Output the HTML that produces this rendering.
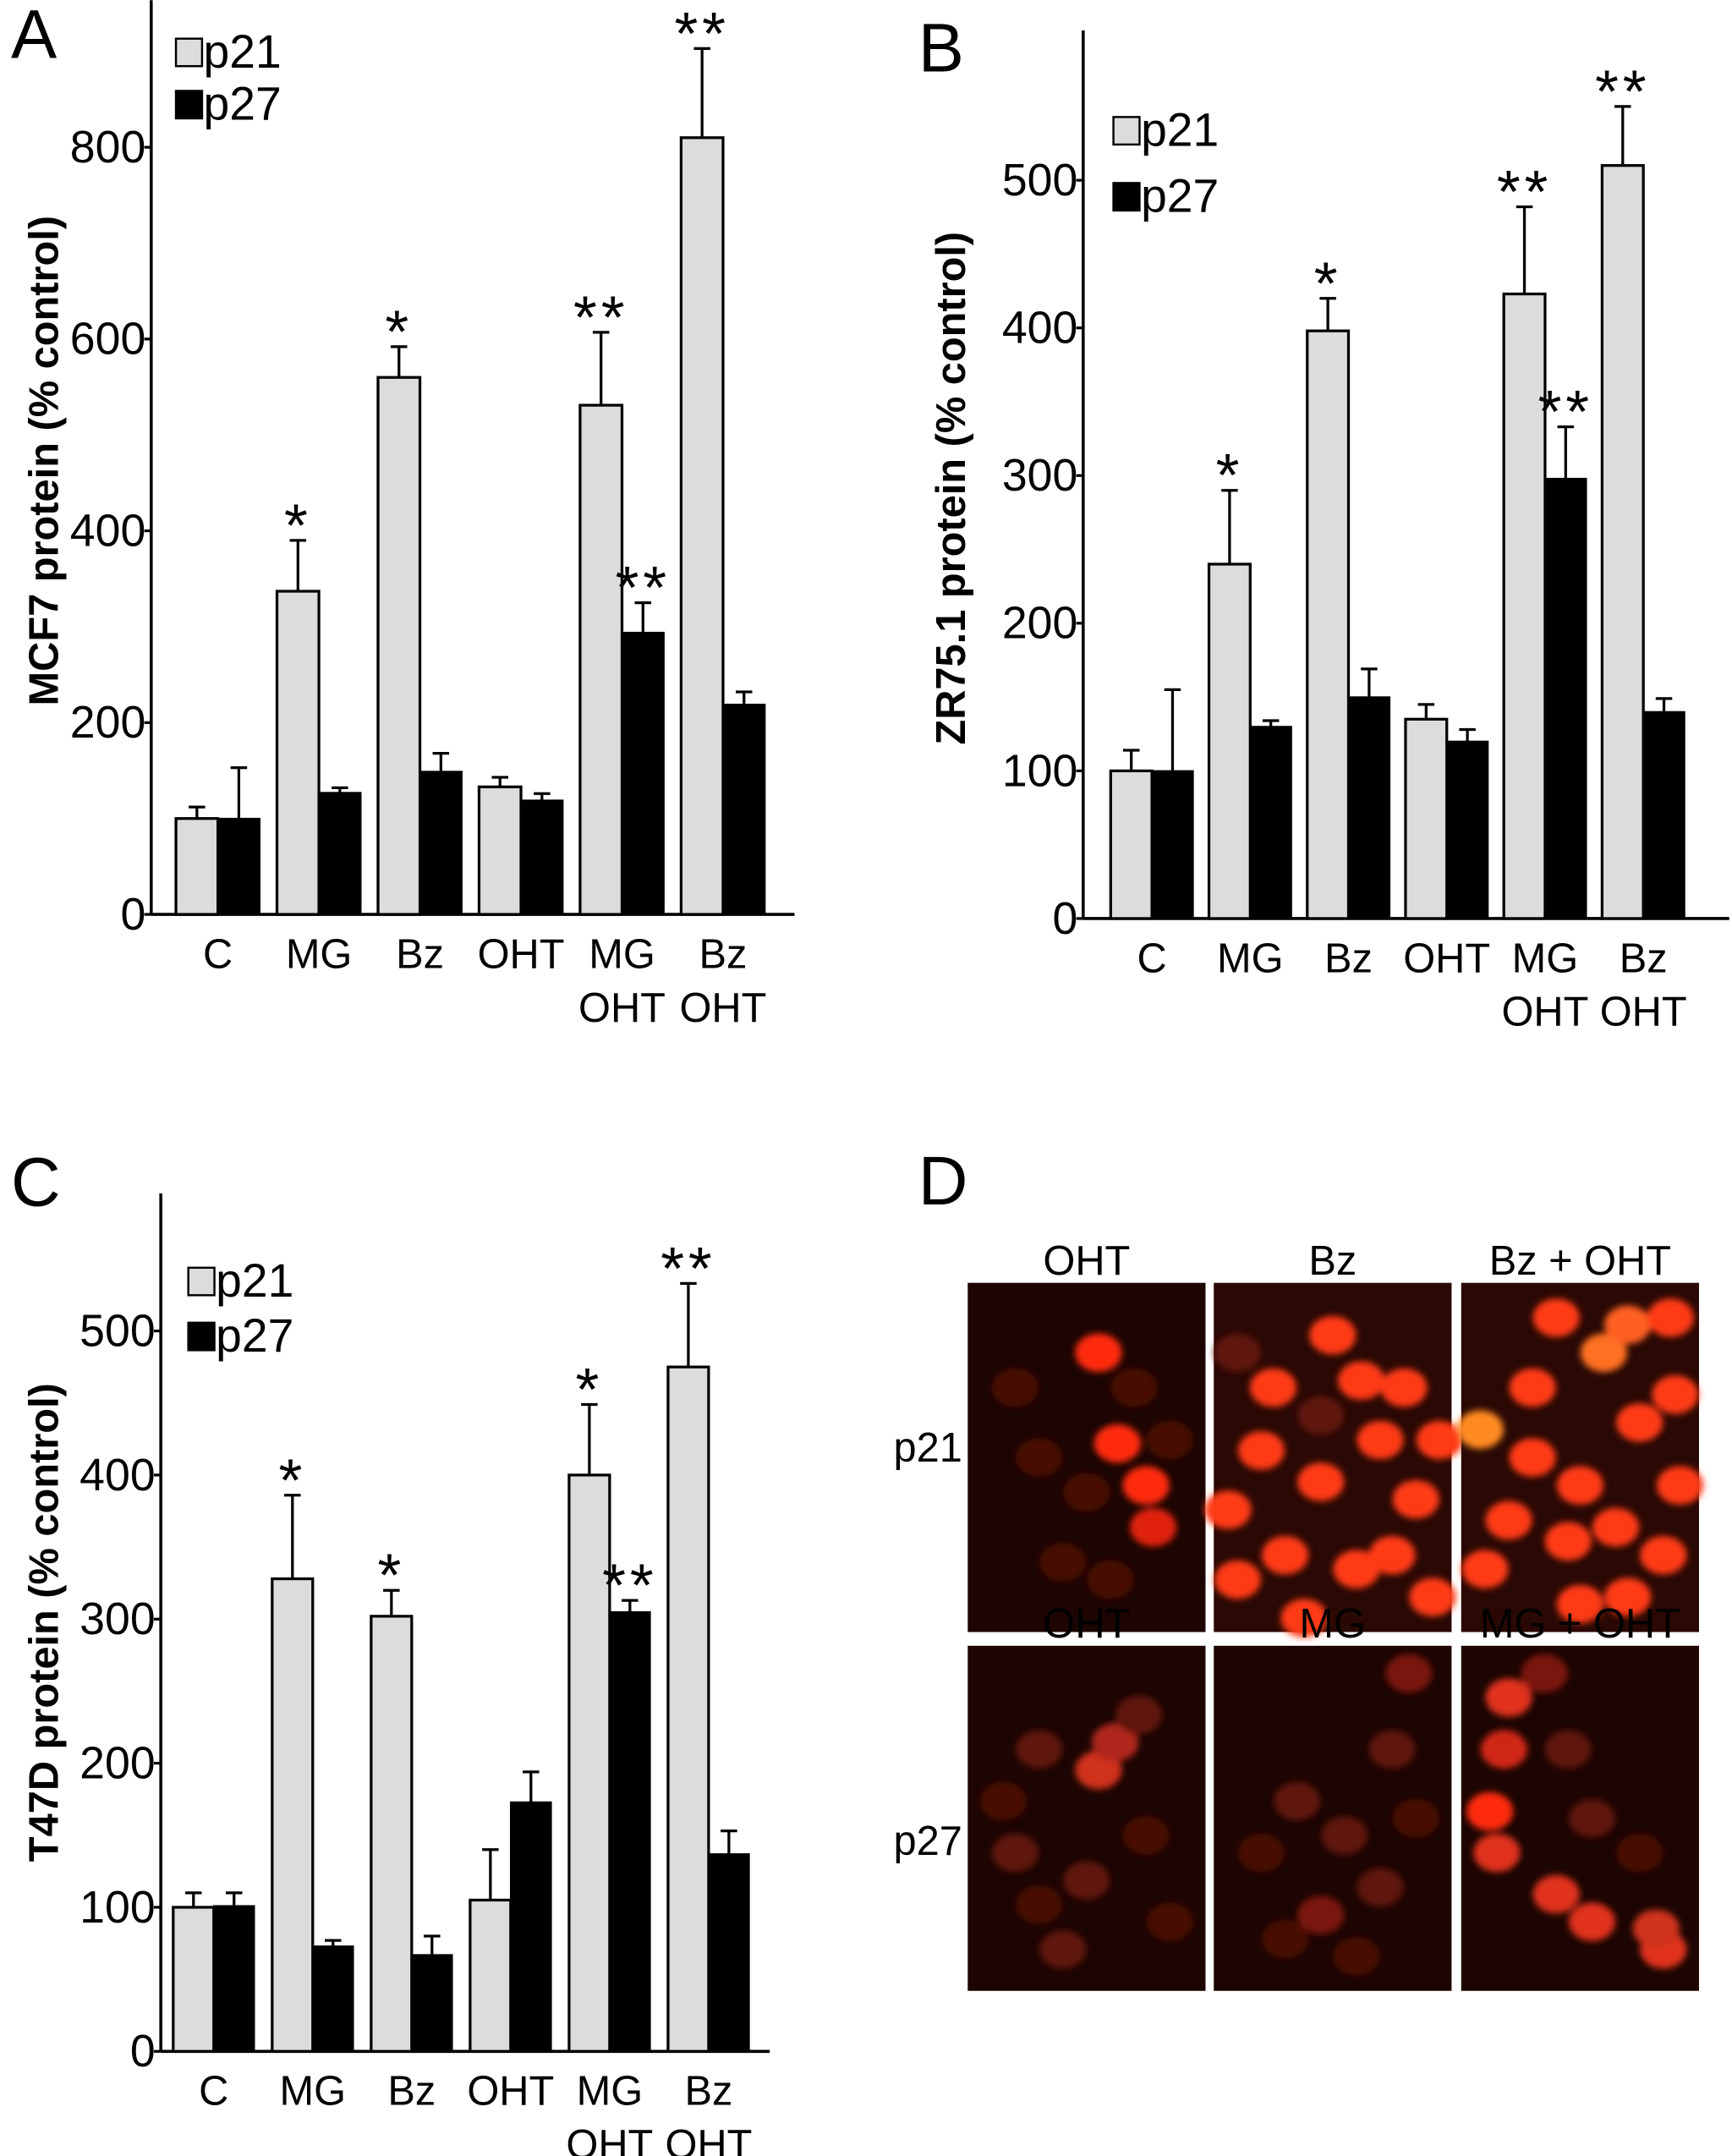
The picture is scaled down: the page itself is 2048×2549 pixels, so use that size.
<!DOCTYPE html>
<html><head><meta charset="utf-8">
<style>
html,body{margin:0;padding:0;background:#fff;}
svg{display:block;font-family:"Liberation Sans",Arial,sans-serif;}
</style></head>
<body>
<svg id="fig" width="2048" height="2549" viewBox="0 0 1260 1568" xmlns="http://www.w3.org/2000/svg">
<defs>
<filter id="blur" x="-20%" y="-20%" width="140%" height="140%"><feGaussianBlur stdDeviation="2.5"/></filter>
</defs>
<g id="panels"></g>
</svg>
<script>
const categories = ["C","MG","Bz","OHT","MG\nOHT","Bz\nOHT"];
const aP21 = [100,337,560,133,531,810];
const aP21Err = [12,53,32,10,76,93];
const aP27 = [100,127,149,119,294,219];
const aP27Err = [53,5,19,7,31,13];
const aStars21 = ["","*","*","","**","**"];
const aStars27 = ["","","","","**",""];
const aTicks = [0,200,400,600,800];

const bP21 = [100,240,398,135,423,510];
const bP21Err = [14,50,22,10,59,40];
const bP27 = [100,130,150,120,298,140];
const bP27Err = [55,4,19,8,35,9];
const bStars21 = ["","*","*","","**","**"];
const bStars27 = ["","","","","**",""];
const bTicks = [0,100,200,300,400,500];

const cP21 = [100,328,302,105,400,475];
const cP21Err = [10,58,18,35,49,58];
const cP27 = [101,73,67,173,305,137];
const cP27Err = [9,4,13,21,8,16];
const cStars21 = ["","*","*","","*","**"];
const cStars27 = ["","","","","**",""];
const cTicks = [0,100,200,300,400,500];

const NS="http://www.w3.org/2000/svg";
const root=document.getElementById('panels');
function mk(tag,attrs,parent){const e=document.createElementNS(NS,tag);for(const k in attrs)e.setAttribute(k,attrs[k]);(parent||root).appendChild(e);return e;}
function txt(s,attrs,parent){const t=mk('text',attrs,parent);t.textContent=s;return t;}

function chart(cfg){
  const g=mk('g',{});
  
  
  const y=v=>cfg.y0-(v/cfg.unit)*cfg.ppu;
  const x=i=>cfg.gx0+i*cfg.gstep;
  const ya=mk('line',{x1:cfg.ax,y1:cfg.top,x2:cfg.ax,y2:cfg.y0,stroke:'#000','stroke-width':2.2},g);
  
  
  const xa=mk('line',{x1:cfg.ax,y1:cfg.y0,x2:cfg.xend,y2:cfg.y0,stroke:'#000','stroke-width':2.2},g);
  
  
  cfg.ticks.forEach(t=>{
    mk('line',{x1:cfg.ax-5,y1:y(t),x2:cfg.ax,y2:y(t),stroke:'#000','stroke-width':2},g);
    const l=txt(String(t),{x:cfg.ax-4,y:y(t)+11,'font-size':33,'text-anchor':'end'},g);
    
    
  });
  const bw=cfg.bw;
  categories.forEach((c,i)=>{
    const gx=x(i);
    const v1=cfg.p21[i], v2=cfg.p27[i];
    mk('line',{x1:gx+bw/2,y1:y(v1),x2:gx+bw/2,y2:y(v1+cfg.e21[i]),stroke:'#000','stroke-width':2},g);
    mk('line',{x1:gx+bw/2-6,y1:y(v1+cfg.e21[i]),x2:gx+bw/2+6,y2:y(v1+cfg.e21[i]),stroke:'#000','stroke-width':2},g);
    const b1=mk('rect',{x:gx,y:y(v1),width:bw,height:cfg.y0-y(v1),fill:'#dcdcdc',stroke:'#000','stroke-width':2},g);
    
    
    mk('line',{x1:gx+bw*1.5,y1:y(v2),x2:gx+bw*1.5,y2:y(v2+cfg.e27[i]),stroke:'#000','stroke-width':2},g);
    mk('line',{x1:gx+bw*1.5-6,y1:y(v2+cfg.e27[i]),x2:gx+bw*1.5+6,y2:y(v2+cfg.e27[i]),stroke:'#000','stroke-width':2},g);
    const b2=mk('rect',{x:gx+bw,y:y(v2),width:bw,height:cfg.y0-y(v2),fill:'#000',stroke:'#000','stroke-width':1},g);
    
    
    if(cfg.s21[i]){const s=txt(cfg.s21[i],{x:gx+bw/2,y:y(v1+cfg.e21[i])+4,'font-size':44,'text-anchor':'middle','letter-spacing':3},g);
      
      }
    if(cfg.s27[i]){const s=txt(cfg.s27[i],{x:gx+bw*1.5,y:y(v2+cfg.e27[i])+4,'font-size':44,'text-anchor':'middle','letter-spacing':3},g);
      
      }
    const parts=c.split('\n');
    parts.forEach((p,k)=>{const l=txt(p,{x:gx+bw,y:cfg.y0+39+k*39,'font-size':30,'text-anchor':'middle'},g);
      
      });
  });
  [['p21','#dcdcdc'],['p27','#000']].forEach((L,k)=>{
    const r=mk('rect',{x:cfg.lx,y:cfg.ly+k*cfg.lstep,width:19,height:20,fill:L[1],stroke:'#000','stroke-width':1.5},g);
    
    
    const t=txt(L[0],{x:cfg.lx+20,y:cfg.ly+k*cfg.lstep+21,'font-size':34},g);
    
    
  });
  const pl=txt(cfg.letter,{x:cfg.px,y:cfg.py,'font-size':50},g);
  
  
  const yt=txt(cfg.title,{x:0,y:0,'font-size':30,'font-weight':'bold','text-anchor':'middle',transform:`translate(${cfg.tx},${cfg.ty}) rotate(-90)`},g);
  
  
}

chart({name:'chart-a-mcf7',p21:aP21,e21:aP21Err,p27:aP27,e27:aP27Err,s21:aStars21,s27:aStars27,ticks:aTicks,
  unit:200,ppu:139.5,y0:665,top:0,ax:110,xend:578,gx0:128,gstep:73.5,bw:30.5,
  lx:128,ly:28,lstep:38,letter:'A',px:8,py:42,title:'MCF7 protein (% control)',tx:42,ty:335});
chart({name:'chart-b-zr751',p21:bP21,e21:bP21Err,p27:bP27,e27:bP27Err,s21:bStars21,s27:bStars27,ticks:bTicks,
  unit:100,ppu:107.4,y0:668,top:22,ax:788,xend:1258,gx0:808,gstep:71.5,bw:30,
  lx:810,ly:85,lstep:48,letter:'B',px:668,py:52,title:'ZR75.1 protein (% control)',tx:702,ty:355});
chart({name:'chart-c-t47d',p21:cP21,e21:cP21Err,p27:cP27,e27:cP27Err,s21:cStars21,s27:cStars27,ticks:cTicks,
  unit:100,ppu:104.8,y0:1492,top:868,ax:117,xend:560,gx0:126,gstep:72,bw:29.5,
  lx:137,ly:922,lstep:40,letter:'C',px:8,py:877,title:'T47D protein (% control)',tx:42,ty:1180});

const pd=mk('g',{});


const dl=txt('D',{x:668,y:876,'font-size':50},pd);


const cols=[704,883,1063], cw=173;
const rows=[[933,254],[1197,251]];
const colLabels=[["OHT","Bz","Bz + OHT"],["OHT","MG","MG + OHT"]];
const R='#ff3a18', D1='#4a0e06', D2='#5e1208';
const nuclei=[
 [[[0.55,0.2,'#ff2a10'],[0.63,0.46,'#ff2a10'],[0.75,0.58,'#ff2a10'],[0.78,0.7,'#e02010'],[0.3,0.5,D1],[0.5,0.6,D1],[0.2,0.3,D1],[0.7,0.3,D1],[0.4,0.8,D1],[0.6,0.85,D1],[0.85,0.45,D1]],
  [[0.5,0.15,R],[0.25,0.3,R],[0.62,0.28,R],[0.8,0.3,R],[0.2,0.48,R],[0.7,0.45,R],[0.45,0.57,R],[0.06,0.65,R],[0.85,0.62,R],[0.3,0.78,R],[0.6,0.82,R],[0.38,0.96,R],[0.92,0.9,R],[0.95,0.45,R],[0.1,0.85,R],[0.75,0.78,R],[0.45,0.38,D2],[0.1,0.2,D2]],
  [[0.4,0.1,R],[0.6,0.2,'#ff7020'],[0.7,0.12,'#ff6020'],[0.88,0.1,R],[0.08,0.42,'#ff8a20'],[0.3,0.5,R],[0.5,0.58,R],[0.75,0.4,R],[0.2,0.68,R],[0.65,0.7,R],[0.85,0.78,R],[0.45,0.74,R],[0.1,0.82,R],[0.5,0.92,R],[0.92,0.58,R],[0.3,0.3,R],[0.9,0.32,R],[0.7,0.9,R]]],
 [[[0.55,0.36,'#d0301c'],[0.62,0.28,'#b0281a'],[0.3,0.3,D2],[0.72,0.2,D2],[0.2,0.6,D2],[0.5,0.68,D2],[0.4,0.88,D2],[0.15,0.45,D1],[0.75,0.55,D1],[0.85,0.8,D1],[0.3,0.75,D1]],
  [[0.35,0.45,D2],[0.55,0.55,D2],[0.45,0.78,'#7a1808'],[0.75,0.3,D2],[0.82,0.08,'#7a1808'],[0.7,0.7,D2],[0.2,0.6,D1],[0.3,0.85,D1],[0.6,0.9,D1],[0.85,0.5,D1]],
  [[0.2,0.15,'#e0301c'],[0.18,0.3,'#d02818'],[0.12,0.48,'#ff2a10'],[0.15,0.6,'#e0301c'],[0.4,0.72,'#e0301c'],[0.55,0.8,'#e0301c'],[0.85,0.88,'#e0301c'],[0.82,0.82,'#d0301c'],[0.35,0.08,'#7a1808'],[0.55,0.5,D2],[0.45,0.3,D2],[0.75,0.6,D1]]]
];
rows.forEach((r,ri)=>{
  cols.forEach((cx,ci)=>{
    const bg=mk('rect',{x:cx,y:r[0],width:cw,height:r[1],fill:ri===0&&ci>0?'#2a0804':'#1c0502'},pd);
    
    
    const ng=mk('g',{filter:'url(#blur)'},pd);
    nuclei[ri][ci].forEach(n=>{
      mk('ellipse',{cx:cx+n[0]*cw,cy:r[0]+n[1]*r[1],rx:17,ry:14,fill:n[2]},ng);
    });
    const l=txt(colLabels[ri][ci],{x:cx+cw/2,y:r[0]-6,'font-size':30,'text-anchor':'middle'},pd);
    
    
  });
});
const r1=txt('p21',{x:650,y:1063,'font-size':30},pd);


const r2=txt('p27',{x:650,y:1349,'font-size':30},pd);


</script>
</body></html>
